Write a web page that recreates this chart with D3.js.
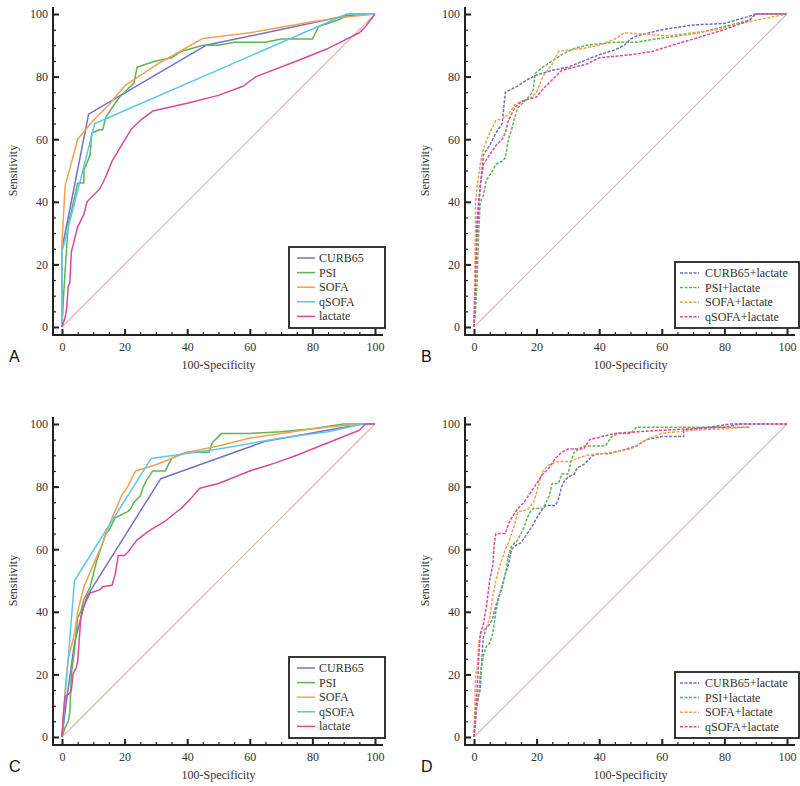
<!DOCTYPE html>
<html><head><meta charset="utf-8">
<script src="https://cdn.jsdelivr.net/npm/d3@7"></script>
<style>body{margin:0;background:#fff}svg{display:block}</style>
</head><body>
<svg id="chart" width="800" height="786"></svg>
<script>
// ---------- data ----------
const ticksMajor = [0, 20, 40, 60, 80, 100];
const xTitle = "100-Specificity";
const yTitle = "Sensitivity";

const namesSingle = ["CURB65", "PSI", "SOFA", "qSOFA", "lactate"];
const namesCombo = ["CURB65+lactate", "PSI+lactate", "SOFA+lactate", "qSOFA+lactate"];

// Panel A
const A_CURB65 = [[0,0],[0,25],[8.5,68],[46,90],[91,99.5],[100,100]];
const A_PSI = [[0,0],[0.5,10],[1,18],[2,33],[3,37],[5,46],[7,46],[7,50],[9,55],[9.5,62],[12,63],[13,63],[14,67],[16,70],[18,73],[20,75],[22,77],[23,78],[24,83],[27,84],[30,85],[35,86],[38,88],[45,90],[50,90],[55,91],[65,91],[70,92],[80,92],[82,96],[88,98],[92,100],[100,100]];
const A_SOFA = [[0,0],[0,27],[1,45],[5,60],[10,66],[15,71],[20,77],[30,83.7],[45,92.2],[60,94],[80,97.5],[90,99],[100,100]];
const A_qSOFA = [[0,0],[0,24],[10.5,65],[91,100],[100,100]];
const A_lactate = [[0,0],[1,3],[1.5,6],[2,13],[2.5,14],[3,24],[4,28],[5,32],[6,34],[7,36],[8,40],[10,42],[12,44],[14,48],[16,53],[19,58],[22,63],[25,66],[29,69],[40,71.5],[50,74],[58,77],[62,80],[75,85],[85,89],[95,94],[97,96],[100,100]];

// Panel B
const B_CURB65 = [[0,0],[0.5,20],[1,35],[2,45],[3,55],[5,58],[7,62],[9,65],[9.5,70],[10,75],[12,76],[14,77],[17,79],[20,80.5],[25,82],[30,83],[35,85],[40,87],[45,88.5],[48,90],[50,92],[52,93],[56,94],[60,95],[70,96.5],[80,97],[87,99],[90,100],[100,100]];
const B_PSI = [[0,0],[0.5,5],[1,15],[1.5,30],[2,40],[3,42],[4,47],[6,50],[7,52],[9,53],[10,54],[11,60],[12,63],[13,67],[14,70],[16,72],[18,74],[19,76],[19.5,81],[22,83],[25,85],[28,87],[32,89],[36,90],[45,91],[52,91],[58,92],[65,93],[72,94],[80,96],[88,98],[90,100],[100,100]];
const B_SOFA = [[0,0],[0.3,20],[0.5,40],[1,45],[2,52],[3,57],[5,62],[7,66],[9,66.5],[10,67],[11,68],[13,71],[15,72],[18,73],[20,75],[22,80],[25,84],[27,88],[30,88.5],[35,89],[40,90],[45,92],[48,94],[55,93.5],[62,93],[70,94],[78,95],[85,97],[90,98],[100,100]];
const B_qSOFA = [[0,0],[0.5,15],[1,30],[2,45],[3,52],[5,55],[7,58],[9,60],[10,62],[11,66],[13,70],[15,72],[18,73],[20,73.5],[22,76],[25,79],[28,82],[32,83],[36,84],[40,86],[50,87],[57,88],[60,89],[70,92],[80,95],[88,98],[90,100],[100,100]];

// Panel C
const C_CURB65 = [[0,0],[1.5,12],[4,30],[6.5,40],[8,45],[31.5,82.5],[65,94.5],[96,100],[100,100]];
const C_PSI = [[0,0],[1,3],[2,5],[2.5,8],[3,20],[4,28],[5,38],[6,40],[7,44],[9,48],[10,52],[11,56],[12,59],[13,62],[14,65],[15,66],[16,68],[17,70],[19,71],[21,72],[22,73],[23,75],[24,76],[25,77],[26,80],[27,82],[29,85],[33,85],[34,87],[35,89],[37,90],[40,91],[47,91],[48,94],[51,97],[60,97],[70,97.5],[80,98.5],[90,100],[100,100]];
const C_SOFA = [[0,0],[1,15],[2,25],[4,33],[5,40],[7,48],[10,55],[13,62],[16,70],[19,77],[21,80],[23.5,85],[30,87],[40,91],[50,93],[60,95.5],[70,97],[80,98.5],[90,99.5],[100,100]];
const C_qSOFA = [[0,0],[1,13],[4,50],[28.5,89],[50,92],[70,95.5],[85,97.5],[96,100],[100,100]];
const C_lactate = [[0,0],[0.5,8],[1,13],[2.5,14],[3,15],[3.5,20],[4.5,22],[5,24],[6,38],[7,42],[8,44],[9,46],[12,47],[13,48],[16,48.5],[17,52],[18,58],[20,58],[21,59],[24,63],[28,66],[33,69],[38,73],[41,76],[44,79.5],[50,81],[60,85],[68,87.5],[75,90],[85,94],[95,98],[97,100],[100,100]];

// Panel D
const D_CURB65 = [[0,0],[0.5,5],[1,12],[2,15],[2.5,25],[3,32],[4,35],[5,36],[6,38],[7,42],[8,45],[9,48],[10,52],[11,55],[12,60],[13,61],[15,62],[17,65],[19,68],[20,70],[22,73],[23,74],[26,74],[27,76],[28,80],[29,82],[30,83],[32,84],[33,86],[35,87],[37,89],[38,90],[40,90.5],[43,90.5],[47,91.5],[52,93],[55,95],[60,96],[67,96],[67,98],[75,99],[82,100],[100,100]];
const D_PSI = [[0,0],[0.5,8],[1,10],[1.5,13],[2,20],[3,26],[4,29],[5,30],[6,33],[7,40],[8,45],[9,48],[10,52],[11,58],[12,61],[14,63],[16,67],[17,70],[18,72],[19,73],[22,73],[24,77],[25,81],[27,81],[28,84],[30,84],[31,88],[32,91],[35,93],[42,93],[44,96],[46,97],[50,97],[52,99],[60,99],[70,99],[80,99],[88,99]];
const D_SOFA = [[0,0],[0.3,10],[0.5,20],[1,22],[1.5,30],[2,33],[4,35],[5,38],[6,45],[7,50],[8,54],[9,57],[10,60],[11,62],[12,65],[13,68],[14,72],[17,72.5],[19,75],[20,78],[21,82],[22,85],[24,87],[27,88],[31,88],[33,89],[36,90],[45,91],[50,92],[55,95],[60,97],[70,98],[80,98.5],[88,99]];
const D_qSOFA = [[0,0],[0.5,8],[1,15],[1.5,25],[2,33],[3,36],[4,42],[5,50],[6,55],[6.5,62],[7,65],[10,65],[11,68],[12,70],[14,73],[16,75],[18,78],[20,81],[22,84],[24,86],[26,89],[28,91],[30,92],[35,92],[37,95],[45,97],[52,97.5],[60,98],[70,98.5],[80,99],[85,100],[100,100]];

const colorsSingle = ["#7373c9", "#5db553", "#f5a04f", "#5ec6ee", "#d84a96"];
const colorsCombo = ["#6f6fc6", "#5db553", "#f5a04f", "#dd4a96"];
const diagColor = "#e6b0ad";

// ---------- drawing ----------
const svg = d3.select("#chart");
const serif = "'Liberation Serif', 'DejaVu Serif', serif";

function drawPanel(ox, oy, names, datasets, colors, dashed, letter, legendBox) {
  const g = svg.append("g").attr("transform", `translate(${ox},${oy})`);
  const x = d3.scaleLinear().domain([0, 100]).range([62, 375]);
  const y = d3.scaleLinear().domain([0, 100]).range([327, 14]);
  const axisY = 335, axisX = 53;

  // diagonal reference line
  g.append("line").attr("x1", x(0)).attr("y1", y(0)).attr("x2", x(100)).attr("y2", y(100))
    .attr("stroke", diagColor).attr("stroke-width", 1.1);

  const line = d3.line().x(d => x(d[0])).y(d => y(d[1]));
  datasets.forEach((ds, i) => {
    g.append("path").datum(ds).attr("d", line).attr("fill", "none")
      .attr("stroke", colors[i]).attr("stroke-width", 1.5)
      .attr("stroke-dasharray", dashed ? "3,1.5" : null)
      .attr("stroke-linejoin", "round");
  });

  const minor = d3.range(0, 101, 5);
  // x axis
  const gx = g.append("g").attr("transform", `translate(0,${axisY})`);
  gx.call(d3.axisBottom(x).tickValues(minor).tickSize(-3).tickFormat(""));
  gx.select(".domain").remove();
  const gx2 = g.append("g").attr("transform", `translate(0,${axisY})`);
  gx2.call(d3.axisBottom(x).tickValues(ticksMajor).tickSize(-6).tickSizeOuter(0).tickPadding(7));
  gx2.select(".domain").remove();
  // y axis
  const gy = g.append("g").attr("transform", `translate(${axisX},0)`);
  gy.call(d3.axisLeft(y).tickValues(minor).tickSize(-3).tickFormat(""));
  gy.select(".domain").remove();
  const gy2 = g.append("g").attr("transform", `translate(${axisX},0)`);
  gy2.call(d3.axisLeft(y).tickValues(ticksMajor).tickSize(-6).tickSizeOuter(0).tickPadding(5));
  gy2.select(".domain").remove();
  [gx, gx2, gy, gy2].forEach(a => {
    a.selectAll(".tick line").attr("stroke", "#222").attr("stroke-width", 1.2);
    a.selectAll("text").attr("font-family", serif)
      .attr("font-size", 12).attr("fill", "#333");
  });
  gy2.selectAll(".tick line").attr("stroke-width", 2);
  gx2.selectAll(".tick line").attr("stroke-width", 2);

  // axis lines
  g.append("line").attr("x1", axisX).attr("x2", axisX).attr("y1", 7).attr("y2", axisY + 1)
    .attr("stroke", "#222").attr("stroke-width", 2);
  g.append("line").attr("x1", axisX - 1).attr("x2", 383).attr("y1", axisY).attr("y2", axisY)
    .attr("stroke", "#222").attr("stroke-width", 2);

  // titles
  g.append("text").attr("x", x(50)).attr("y", 369).attr("text-anchor", "middle")
    .attr("font-family", serif).attr("font-size", 12).attr("fill", "#333")
    .text(xTitle);
  g.append("text").attr("transform", `translate(17,${y(50)}) rotate(-90)`).attr("text-anchor", "middle")
    .attr("font-family", serif).attr("font-size", 12).attr("fill", "#333")
    .text(yTitle);
  g.append("text").attr("x", 9).attr("y", 362)
    .attr("font-family", "'Liberation Sans', Arial, sans-serif").attr("font-size", 16).attr("fill", "#111")
    .text(letter);

  // legend
  const lb = legendBox;
  const lg = g.append("g");
  lg.append("rect").attr("x", lb.x).attr("y", lb.y).attr("width", lb.w).attr("height", lb.h)
    .attr("fill", "#fff").attr("stroke", "#222").attr("stroke-width", 1.8);
  names.forEach((n, i) => {
    const ry = lb.y + lb.top + i * 14.6;
    lg.append("line").attr("x1", lb.x + lb.l1).attr("x2", lb.x + lb.l2).attr("y1", ry).attr("y2", ry)
      .attr("stroke", colors[i]).attr("stroke-width", 1.5)
      .attr("stroke-dasharray", dashed ? "3,1.5" : null);
    lg.append("text").attr("x", lb.x + lb.tx).attr("y", ry + 4)
      .attr("font-family", serif).attr("font-size", 12).attr("fill", "#333")
      .text(n);
  });
}

const legSingle = {x: 289, y: 247, w: 96, h: 81, top: 11, l1: 8, l2: 26, tx: 30};
const legCombo = {x: 263, y: 262, w: 124, h: 66, top: 11, l1: 5, l2: 24, tx: 30};

drawPanel(0, 0, namesSingle, [A_CURB65, A_PSI, A_SOFA, A_qSOFA, A_lactate], colorsSingle, false, "A", legSingle);
drawPanel(412, 0, namesCombo, [B_CURB65, B_PSI, B_SOFA, B_qSOFA], colorsCombo, true, "B", legCombo);
drawPanel(0, 410, namesSingle, [C_CURB65, C_PSI, C_SOFA, C_qSOFA, C_lactate], colorsSingle, false, "C", legSingle);
drawPanel(412, 410, namesCombo, [D_CURB65, D_PSI, D_SOFA, D_qSOFA], colorsCombo, true, "D", legCombo);
</script>
</body></html>
